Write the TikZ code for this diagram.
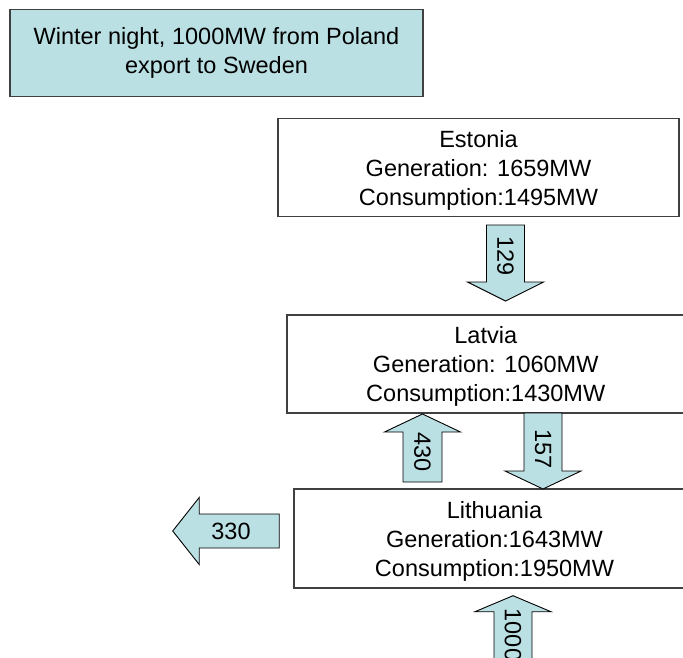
\documentclass[tikz,border=0pt]{standalone}
\usepackage{fontspec}
\setmainfont{Liberation Sans}
\usepackage{xcolor}

\definecolor{flowblue}{RGB}{187,224,227}

\tikzset{
  note/.style={draw=black!75, line width=1.5pt, fill=flowblue, align=center, inner sep=0pt, font=\fontsize{23.5}{28.5}\selectfont},
  country/.style={draw=black!75, line width=1.5pt, fill=white, align=center, inner sep=0pt, text depth=0pt, font=\fontsize{23.5}{29}\selectfont},
  flow/.style={draw=black, line width=0.9pt, fill=flowblue},
  flowlabel/.style={inner sep=0pt, font=\fontsize{23.5}{29}\selectfont}
}

\begin{document}
\begin{tikzpicture}[x=1pt,y=-1pt]

\useasboundingbox (0,0) rectangle (683,658);
\clip (0,0) rectangle (683,658);

% boxes
{

\node[note, minimum width=413pt, minimum height=87pt] (title) at (216.5,53)
{Winter night, 1000MW from Poland\\export to Sweden};

\node[country, minimum width=401pt, minimum height=98pt] (estonia) at (478.5,167.5)
{Estonia\\Generation: 1659MW\\Consumption:1495MW};

\node[country, minimum width=397.5pt, minimum height=98pt] (latvia) at (485.75,364)
{Latvia\\Generation: 1060MW\\Consumption:1430MW};

\node[country, minimum width=401pt, minimum height=99pt] (lithuania) at (494.5,538.5)
{Lithuania\\Generation:1643MW\\Consumption:1950MW};

}

% flows
{

\coordinate (t129) at (505.5,301);
\draw[flow] (t129)--++(38,-19)--++(-19,0)--++(0,-57)--++(-38,0)--++(0,57)--++(-19,0)--cycle;

\coordinate (t430) at (422.5,414);
\draw[flow] (t430)--++(38,18)--++(-18.5,0)--++(0,50)--++(-39,0)--++(0,-50)--++(-18.5,0)--cycle;

\coordinate (t157) at (543,489);
\draw[flow] (t157)--++(38,-18)--++(-19,0)--++(0,-58)--++(-38,0)--++(0,58)--++(-19,0)--cycle;

\coordinate (t330) at (172.7,531);
\draw[flow] (t330)--++(26.5,-33.5)--++(0,16.5)--++(80,0)--++(0,34)--++(-80,0)--++(0,16.5)--cycle;

\coordinate (t1000) at (513,595.7);
\draw[flow] (t1000)--++(38,16)--++(-19,0)--++(0,70)--++(-38,0)--++(0,-70)--++(-19,0)--cycle;

}

% nodes
{

\node[flowlabel, rotate=-90] (n129) at (505.5,256) {129};
\node[flowlabel, rotate=-90] (n430) at (422.5,452) {430};
\node[flowlabel, rotate=-90] (n157) at (543,449) {157};
\node[flowlabel] (n330) at (231,531) {330};
\node[flowlabel, rotate=-90] (n1000) at (513,635) {1000};

}

\end{tikzpicture}
\end{document}
